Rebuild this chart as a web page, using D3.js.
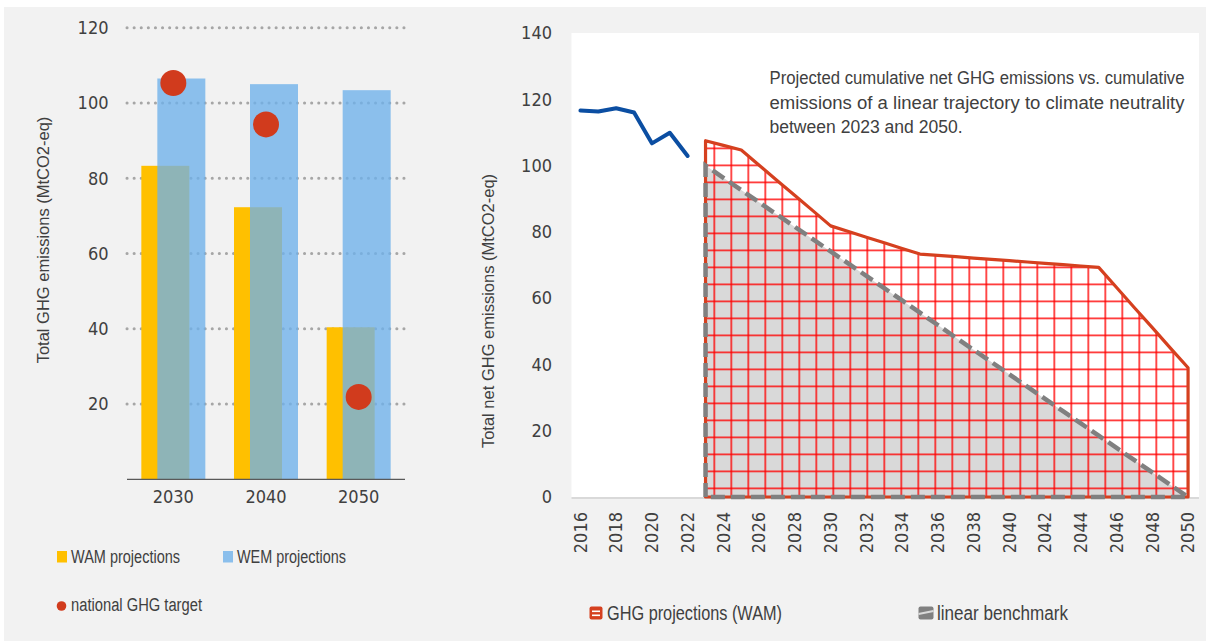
<!DOCTYPE html>
<html>
<head>
<meta charset="utf-8">
<script src="https://cdn.jsdelivr.net/npm/d3@7"></script>
<style>
  body { margin: 0; background: #ffffff; }
  svg { display: block; }
  .tick-label { font-family: "DejaVu Sans Condensed", "DejaVu Sans", sans-serif; font-size: 18px; fill: #404040; }
  .title { font-family: "Liberation Sans", Arial, sans-serif; font-size: 16.5px; fill: #404040; }
  .legend { font-family: "Liberation Sans", Arial, sans-serif; fill: #404040; }
</style>
</head>
<body>
<div id="chart"></div>
<script>
// left chart data
var barCategories = ["2030", "2040", "2050"];
var wamValues = [83.3, 72.3, 40.4];
var wemValues = [106.5, 105.0, 103.4];
var targetValues = [105.3, 94.3, 21.9];
var leftTicks = [20, 40, 60, 80, 100, 120];

// right chart data
var years = [2016, 2017, 2018, 2019, 2020, 2021, 2022, 2023, 2024, 2025, 2026, 2027,
             2028, 2029, 2030, 2031, 2032, 2033, 2034, 2035, 2036, 2037, 2038, 2039,
             2040, 2041, 2042, 2043, 2044, 2045, 2046, 2047, 2048, 2049, 2050];
var historyYears = [2016, 2017, 2018, 2019, 2020, 2021, 2022];
var historyValues = [116.6, 116.3, 117.3, 116.0, 106.7, 109.9, 102.9];
var projYears = [2023, 2024, 2025, 2026, 2027, 2028, 2029, 2030, 2031, 2032, 2033, 2034,
                 2035, 2036, 2037, 2038, 2039, 2040, 2041, 2042, 2043, 2044, 2045, 2046,
                 2047, 2048, 2049, 2050];
var wamProjection = [107.5, 106.1, 104.7, 100.1, 95.5, 91.0, 86.4, 81.8, 80.1, 78.4, 76.7, 75.0,
                     73.3, 72.9, 72.5, 72.1, 71.7, 71.3, 70.9, 70.5, 70.1, 69.7, 69.3, 63.2,
                     57.1, 51.1, 45.0, 39.0];
var benchmark = [100, 96.3, 92.6, 88.9, 85.2, 81.5, 77.8, 74.1, 70.4, 66.7, 63.0, 59.3,
                 55.6, 51.9, 48.1, 44.4, 40.7, 37.0, 33.3, 29.6, 25.9, 22.2, 18.5, 14.8,
                 11.1, 7.4, 3.7, 0];
var rightTicks = [0, 20, 40, 60, 80, 100, 120, 140];
var yearTicks = [2016, 2018, 2020, 2022, 2024, 2026, 2028, 2030, 2032, 2034, 2036, 2038,
                 2040, 2042, 2044, 2046, 2048, 2050];
var noteLines = ["Projected cumulative net GHG emissions vs. cumulative",
                 "emissions of a linear trajectory to climate neutrality",
                 "between 2023 and 2050."];

var W = 1206, H = 641;

var svg = d3.select("#chart")
  .append("svg")
    .attr("width", W)
    .attr("height", H);

// backgrounds
svg.append("rect").attr("width", W).attr("height", H).attr("fill", "#ffffff");
svg.append("rect").attr("x", 4).attr("y", 7).attr("width", W - 4).attr("height", H - 7).attr("fill", "#f2f2f2");

// condensed-looking text: squeeze to the width seen in the picture
var narrowText = function(sel, x, y, size, width, txt) {
  return sel.append("text")
    .attr("class", "legend")
    .attr("x", x).attr("y", y)
    .style("font-size", size + "px")
    .attr("textLength", width)
    .attr("lengthAdjust", "spacingAndGlyphs")
    .text(txt);
};

// ---------------- left chart ----------------
var xL = d3.scaleBand()
    .domain(barCategories)
    .range([127, 405]);
var yL = d3.scaleLinear()
    .domain([0, 120])
    .range([479.3, 27.7]);
var barW = 48, barShift = 8;

// dotted gridlines
svg.append("g")
  .selectAll("line")
  .data(leftTicks)
  .enter().append("line")
    .attr("x1", 127).attr("x2", 405)
    .attr("y1", function(d) { return yL(d); })
    .attr("y2", function(d) { return yL(d); })
    .attr("stroke", "#a6a6a6")
    .attr("stroke-width", 3)
    .attr("stroke-linecap", "round")
    .attr("stroke-dasharray", "0.1 7");

// y tick labels
svg.append("g")
  .selectAll("text")
  .data(leftTicks)
  .enter().append("text")
    .attr("class", "tick-label")
    .attr("x", 108.5)
    .attr("y", function(d) { return yL(d); })
    .attr("dy", "0.35em")
    .attr("text-anchor", "end")
    .text(function(d) { return d; });

// WAM bars
svg.append("g")
  .selectAll("rect")
  .data(wamValues)
  .enter().append("rect")
    .attr("x", function(d, i) { return xL(barCategories[i]) + xL.bandwidth() / 2 - barShift - barW / 2; })
    .attr("y", function(d) { return yL(d); })
    .attr("width", barW)
    .attr("height", function(d) { return yL(0) - yL(d); })
    .attr("fill", "#ffc000");

// WEM bars (semi transparent)
svg.append("g")
  .selectAll("rect")
  .data(wemValues)
  .enter().append("rect")
    .attr("x", function(d, i) { return xL(barCategories[i]) + xL.bandwidth() / 2 + barShift - barW / 2; })
    .attr("y", function(d) { return yL(d); })
    .attr("width", barW)
    .attr("height", function(d) { return yL(0) - yL(d); })
    .attr("fill", "rgb(110,177,234)")
    .attr("fill-opacity", 0.78);

// national targets
svg.append("g")
  .selectAll("circle")
  .data(targetValues)
  .enter().append("circle")
    .attr("cx", function(d, i) { return xL(barCategories[i]) + xL.bandwidth() / 2; })
    .attr("cy", function(d) { return yL(d); })
    .attr("r", 13)
    .attr("fill", "#d13b1d");

// x axis
svg.append("line")
  .attr("x1", 127).attr("x2", 405)
  .attr("y1", yL(0)).attr("y2", yL(0))
  .attr("stroke", "#595959").attr("stroke-width", 1.3);
svg.append("g")
  .selectAll("text")
  .data(barCategories)
  .enter().append("text")
    .attr("class", "tick-label")
    .attr("x", function(d) { return xL(d) + xL.bandwidth() / 2; })
    .attr("y", 503)
    .attr("text-anchor", "middle")
    .text(function(d) { return d; });

svg.append("text")
  .attr("class", "title")
  .attr("transform", "translate(49,240) rotate(-90)")
  .attr("text-anchor", "middle")
  .text("Total GHG emissions (MtCO2-eq)");

// left legend
svg.append("rect").attr("x", 57).attr("y", 551).attr("width", 10).attr("height", 11.5).attr("fill", "#ffc000");
narrowText(svg, 71, 563, 18, 109, "WAM projections");
svg.append("rect").attr("x", 223).attr("y", 551).attr("width", 10).attr("height", 11.5).attr("fill", "rgb(139,191,236)");
narrowText(svg, 237, 563, 18, 109, "WEM projections");
svg.append("circle").attr("cx", 61.5).attr("cy", 606).attr("r", 4.8).attr("fill", "#d13b1d");
narrowText(svg, 71, 611, 18, 131, "national GHG target");

// ---------------- right chart ----------------
var plotL = 571.5, plotR = 1197, plotT = 33, plotB = 497;
svg.append("rect")
  .attr("x", plotL).attr("y", plotT)
  .attr("width", 1199 - plotL).attr("height", plotB - plotT)
  .attr("fill", "#ffffff");

var xR = d3.scaleBand()
    .domain(years)
    .range([plotL, plotR]);
var yR = d3.scaleLinear()
    .domain([0, 140])
    .range([plotB, plotT]);
var cx = function(yr) { return xR(yr) + xR.bandwidth() / 2; };

// grid pattern for WAM projection area
var defs = svg.append("defs");
var pat = defs.append("pattern")
    .attr("id", "grid")
    .attr("patternUnits", "userSpaceOnUse")
    .attr("x", cx(2023) + 8)
    .attr("y", 402.6)
    .attr("width", 17)
    .attr("height", 17);
pat.append("rect").attr("x", 0).attr("y", 0).attr("width", 1.4).attr("height", 17).attr("fill", "#ff0000");
pat.append("rect").attr("x", 0).attr("y", 0).attr("width", 17).attr("height", 1.4).attr("fill", "#ff0000");

var area = d3.area()
    .x(function(d) { return cx(d.year); })
    .y0(yR(0))
    .y1(function(d) { return yR(d.value); });

var benchData = projYears.map(function(y, i) { return {year: y, value: benchmark[i]}; });
var wamData = projYears.map(function(y, i) { return {year: y, value: wamProjection[i]}; });

// closed outline: bottom-left, up the values, down to bottom-right, back
var outline = function(data) {
  var pts = [[cx(data[0].year), yR(0)]];
  data.forEach(function(d) { pts.push([cx(d.year), yR(d.value)]); });
  pts.push([cx(data[data.length - 1].year), yR(0)]);
  return "M" + pts.join("L") + "Z";
};

svg.append("path").attr("d", area(benchData)).attr("fill", "#d9d9d9");
svg.append("path").attr("d", area(wamData)).attr("fill", "url(#grid)");

// x axis line
svg.append("line")
  .attr("x1", plotL).attr("x2", plotR + 2)
  .attr("y1", plotB + 1).attr("y2", plotB + 1)
  .attr("stroke", "#d9d9d9").attr("stroke-width", 2);

svg.append("path")
  .attr("d", outline(wamData))
  .attr("fill", "none")
  .attr("stroke", "#d5401f")
  .attr("stroke-width", 3.2)
  .attr("stroke-linejoin", "round");
svg.append("path")
  .attr("d", outline(benchData))
  .attr("fill", "none")
  .attr("stroke", "#808080")
  .attr("stroke-width", 4.5)
  .attr("stroke-dasharray", "14 6");

// historical line
var line = d3.line()
    .x(function(d, i) { return cx(historyYears[i]); })
    .y(function(d) { return yR(d); });
svg.append("path")
  .attr("d", line(historyValues))
  .attr("fill", "none")
  .attr("stroke", "#0b4ea2")
  .attr("stroke-width", 4)
  .attr("stroke-linejoin", "round")
  .attr("stroke-linecap", "round");

// y tick labels
svg.append("g")
  .selectAll("text")
  .data(rightTicks)
  .enter().append("text")
    .attr("class", "tick-label")
    .attr("x", 552)
    .attr("y", function(d) { return yR(d); })
    .attr("dy", "0.35em")
    .attr("text-anchor", "end")
    .text(function(d) { return d; });

// x tick labels (rotated)
svg.append("g")
  .selectAll("text")
  .data(yearTicks)
  .enter().append("text")
    .attr("class", "tick-label")
    .attr("transform", function(d) { return "translate(" + cx(d) + ",512) rotate(-90)"; })
    .attr("dy", "0.35em")
    .attr("text-anchor", "end")
    .text(function(d) { return d; });

svg.append("text")
  .attr("class", "title")
  .attr("transform", "translate(494,311) rotate(-90)")
  .attr("text-anchor", "middle")
  .text("Total net GHG emissions  (MtCO2-eq)");

// annotation: first two lines justified to the full width
var noteX = 769.5, noteY = [84, 109, 133], noteW = [415, 415, 193];
noteLines.forEach(function(txt, i) {
  narrowText(svg, noteX, noteY[i], 17.5, noteW[i], txt);
});

// right legend
svg.append("rect").attr("x", 589.5).attr("y", 606.5).attr("width", 13).attr("height", 13).attr("rx", 2).attr("fill", "#d5401f");
svg.append("rect").attr("x", 592).attr("y", 610.5).attr("width", 8).attr("height", 1.6).attr("fill", "#ffffff");
svg.append("rect").attr("x", 592).attr("y", 614.5).attr("width", 8).attr("height", 1.6).attr("fill", "#ffffff");
narrowText(svg, 607, 619.5, 20, 175, "GHG projections (WAM)");

svg.append("rect").attr("x", 918.5).attr("y", 606.5).attr("width", 15).attr("height", 13).attr("rx", 2).attr("fill", "#808080");
svg.append("line").attr("x1", 918.5).attr("y1", 614).attr("x2", 933.5).attr("y2", 611).attr("stroke", "#d9d9d9").attr("stroke-width", 2);
narrowText(svg, 937, 619.5, 20, 131, "linear benchmark");
</script>
</body>
</html>
